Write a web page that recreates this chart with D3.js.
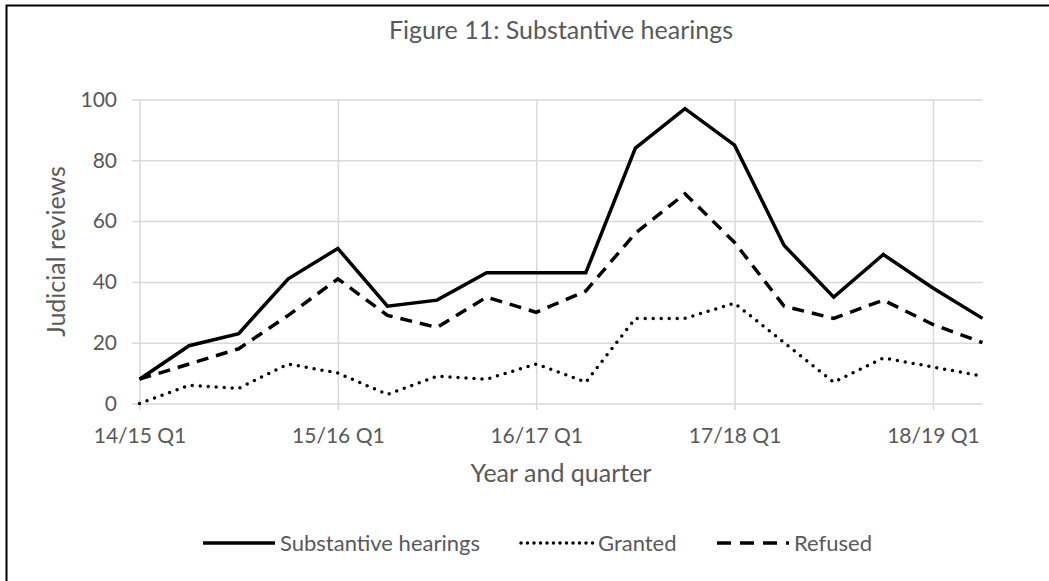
<!DOCTYPE html>
<html>
<head>
<meta charset="utf-8">
<script src="https://cdn.jsdelivr.net/npm/d3@7"></script>
<style>
  body { margin: 0; background: #fff; }
  text { font-family: Lato, "Open Sans", sans-serif; fill: #595959; }
</style>
</head>
<body>
<script>
// quarters along the x axis
var quarters = ["14/15 Q1", "14/15 Q2", "14/15 Q3", "14/15 Q4",
                "15/16 Q1", "15/16 Q2", "15/16 Q3", "15/16 Q4",
                "16/17 Q1", "16/17 Q2", "16/17 Q3", "16/17 Q4",
                "17/18 Q1", "17/18 Q2", "17/18 Q3", "17/18 Q4",
                "18/19 Q1", "18/19 Q2"];
var xTickLabels = ["14/15 Q1", "15/16 Q1", "16/17 Q1", "17/18 Q1", "18/19 Q1"];
var yTicks = [0, 20, 40, 60, 80, 100];

// judicial reviews per quarter
var substantive = [8, 19, 23, 41, 51, 32, 34, 43, 43, 43, 84, 97, 85, 52, 35, 49, 38, 28];
var granted     = [0, 6, 5, 13, 10, 3, 9, 8, 13, 7, 28, 28, 33, 20, 7, 15, 12, 9];
var refused     = [8, 13, 18, 29, 41, 29, 25, 35, 30, 37, 56, 69, 53, 32, 28, 34, 26, 20];

var seriesNames = ["Substantive hearings", "Granted", "Refused"];

var width = 1049, height = 581;
var gridColor = "#d9d9d9";

var svg = d3.select("body").append("svg")
    .attr("width", width)
    .attr("height", height);

svg.append("rect").attr("width", width).attr("height", height).attr("fill", "#fff");

// chart frame (right and bottom edges fall outside the picture)
svg.append("path")
    .attr("d", "M6.5,600 L6.5,5.5 L1100,5.5")
    .attr("fill", "none")
    .attr("stroke", "#000")
    .attr("stroke-width", 2);

var x = d3.scalePoint()
    .domain(quarters)
    .range([139.5, 982.5])
    .padding(0);

var y = d3.scaleLinear()
    .domain([0, 100])
    .range([403.5, 99.5]);

// title
svg.append("text")
    .attr("x", 561)
    .attr("y", 39)
    .attr("text-anchor", "middle")
    .attr("font-size", 25)
    .text("Figure 11: Substantive hearings");

// y axis with horizontal gridlines
var yAxis = svg.append("g")
    .attr("transform", "translate(132,0)")
    .call(d3.axisLeft(y)
        .tickValues(yTicks)
        .tickSize(-(982.5 - 132))
        .tickPadding(15)
        .tickFormat(d3.format("d")));
yAxis.select(".domain").remove();
yAxis.selectAll("line").attr("stroke", gridColor).attr("stroke-width", 1.5);
yAxis.selectAll("text").attr("font-size", 21).attr("fill", "#595959");

// x axis with vertical gridlines at each year
var xAxis = svg.append("g")
    .attr("transform", "translate(0,99.5)")
    .call(d3.axisBottom(x)
        .tickValues(xTickLabels)
        .tickSize(410 - 99.5)
        .tickPadding(18));
xAxis.select(".domain").remove();
xAxis.selectAll("line").attr("stroke", gridColor).attr("stroke-width", 1.5);
xAxis.selectAll("text").attr("font-size", 21).attr("fill", "#595959");

// axis titles
svg.append("text")
    .attr("x", 561)
    .attr("y", 482)
    .attr("text-anchor", "middle")
    .attr("font-size", 25)
    .text("Year and quarter");

svg.append("text")
    .attr("transform", "translate(65,251.5) rotate(-90)")
    .attr("text-anchor", "middle")
    .attr("font-size", 25)
    .text("Judicial reviews");

// series lines
var styles = [
    { data: substantive, dash: null, cap: "butt" },
    { data: granted, dash: "0,8", cap: "round" },
    { data: refused, dash: "12,8", cap: "butt" }
];

var line = d3.line()
    .x(function (d, i) { return x(quarters[i]); })
    .y(function (d) { return y(d); });

styles.forEach(function (s) {
    svg.append("path")
        .datum(s.data)
        .attr("d", line)
        .attr("fill", "none")
        .attr("stroke", "#000")
        .attr("stroke-width", 3.5)
        .attr("stroke-linejoin", "miter")
        .attr("stroke-linecap", s.cap)
        .attr("stroke-dasharray", s.dash);
});

// legend
var legendX = [203, 521, 717];
var legend = svg.append("g").attr("transform", "translate(0,543)");
seriesNames.forEach(function (name, i) {
    var g = legend.append("g").attr("transform", "translate(" + legendX[i] + ",0)");
    g.append("line")
        .attr("x1", 0).attr("x2", 72)
        .attr("stroke", "#000")
        .attr("stroke-width", 3.5)
        .attr("stroke-linecap", styles[i].cap)
        .attr("stroke-dasharray", i === 0 ? null : (i === 1 ? "0,6.5" : "14,9"));
    g.append("text")
        .attr("x", 77)
        .attr("y", 7.5)
        .attr("font-size", 22)
        .text(name);
});
</script>
</body>
</html>
